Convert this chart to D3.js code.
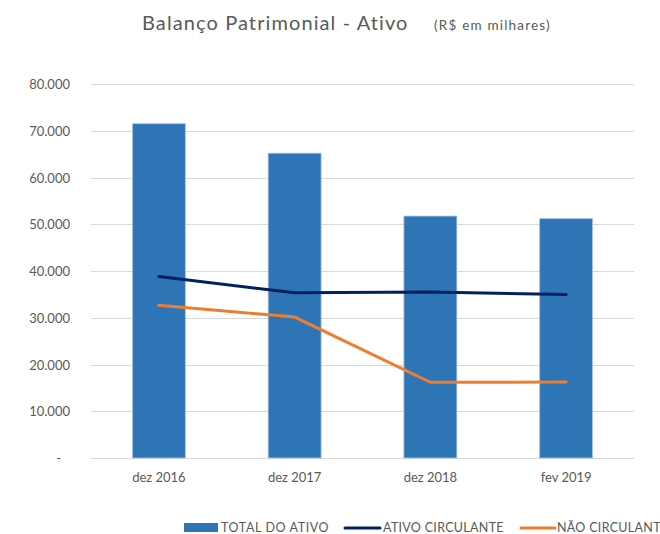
<!DOCTYPE html>
<html>
<head>
<meta charset="utf-8">
<script src="https://cdn.jsdelivr.net/npm/d3@7"></script>
<style>
  body { margin: 0; background: #fff; overflow: hidden; }
  svg text { font-family: Lato, "Open Sans", sans-serif; fill: #595959; }
</style>
</head>
<body>
<div id="chart"></div>
<script>
// data (R$ thousands)
const periods = ["dez 2016", "dez 2017", "dez 2018", "fev 2019"];
const totalAtivo = [71500, 65200, 51750, 51200];
const ativoCirculante = [38800, 35350, 35500, 34950];
const naoCirculante = [32650, 30150, 16200, 16250];
const yTicks = [0, 10000, 20000, 30000, 40000, 50000, 60000, 70000, 80000];

const width = 660, height = 534;
const margin = { top: 84, right: 26, bottom: 76, left: 91 };

const svg = d3.select('#chart').append('svg')
  .attr('width', width)
  .attr('height', height);

const x = d3.scaleBand()
  .domain(periods)
  .range([margin.left, width - margin.right])
  .paddingInner(0.61)
  .paddingOuter(0.305);

const y = d3.scaleLinear()
  .domain([0, 80000])
  .range([height - margin.bottom, margin.top]);

const fmt = d => d === 0 ? '-' : d3.format(',')(d).replace(/,/g, '.');

// gridlines
svg.append('g')
  .selectAll('line')
  .data(yTicks)
  .enter()
  .append('line')
  .attr('x1', margin.left)
  .attr('x2', width - margin.right)
  .attr('y1', d => Math.round(y(d)) + 0.5)
  .attr('y2', d => Math.round(y(d)) + 0.5)
  .attr('stroke', '#d9d9d9')
  .attr('stroke-width', 1);

// y labels
svg.append('g')
  .attr('transform', `translate(${margin.left - 18},0)`)
  .call(d3.axisLeft(y).tickValues(yTicks).tickFormat(fmt).tickSize(0))
  .call(g => g.select('.domain').remove())
  .selectAll('text')
  .attr('font-size', '13px')
  .attr('dy', '0.35em')
  .attr('dx', d => d === 0 ? '-9px' : 0);

// bars
svg.selectAll('.bar')
  .data(totalAtivo)
  .enter()
  .append('rect')
  .attr('class', 'bar')
  .attr('x', (d, i) => x(periods[i]))
  .attr('width', x.bandwidth())
  .attr('y', d => y(d))
  .attr('height', d => y(0) - y(d))
  .attr('fill', '#2e75b6')
  .attr('stroke', '#a9c6e6')
  .attr('stroke-width', 0.8);

// x labels
svg.append('g')
  .attr('transform', `translate(0,${y(0) + 12})`)
  .call(d3.axisBottom(x).tickSize(0))
  .call(g => g.select('.domain').remove())
  .selectAll('text')
  .attr('font-size', '13px');

const line = d3.line()
  .x((d, i) => x(periods[i]) + x.bandwidth() / 2)
  .y(d => y(d));

svg.append('path')
  .datum(ativoCirculante)
  .attr('d', line)
  .attr('fill', 'none')
  .attr('stroke', '#002060')
  .attr('stroke-width', 3)
  .attr('stroke-linecap', 'round');

svg.append('path')
  .datum(naoCirculante)
  .attr('d', line)
  .attr('fill', 'none')
  .attr('stroke', '#ed7d31')
  .attr('stroke-width', 3)
  .attr('stroke-linecap', 'round');

// title
svg.append('text')
  .attr('x', 142)
  .attr('y', 30)
  .attr('font-size', '20px')
  .attr('letter-spacing', '1.1px')
  .attr('fill', '#666')
  .text('Balanço Patrimonial - Ativo');

svg.append('text')
  .attr('x', 434)
  .attr('y', 30)
  .attr('font-size', '13.5px')
  .attr('letter-spacing', '1.2px')
  .text('(R$ em milhares)');

// legend
const legend = svg.append('g').attr('transform', 'translate(0,528)');

legend.append('rect')
  .attr('x', 184).attr('y', -5)
  .attr('width', 34).attr('height', 9)
  .attr('fill', '#2e75b6');
legend.append('text')
  .attr('x', 221).attr('dy', '0.35em')
  .attr('font-size', '12.5px')
  .attr('letter-spacing', '0.6px')
  .text('TOTAL DO ATIVO');

legend.append('line')
  .attr('x1', 345).attr('x2', 380)
  .attr('stroke', '#002060').attr('stroke-width', 3).attr('stroke-linecap', 'round');
legend.append('text')
  .attr('x', 383).attr('dy', '0.35em')
  .attr('font-size', '12.5px')
  .attr('letter-spacing', '0.3px')
  .text('ATIVO CIRCULANTE');

legend.append('line')
  .attr('x1', 521).attr('x2', 555)
  .attr('stroke', '#ed7d31').attr('stroke-width', 3).attr('stroke-linecap', 'round');
legend.append('text')
  .attr('x', 557).attr('dy', '0.35em')
  .attr('font-size', '12.5px')
  .attr('letter-spacing', '0.3px')
  .text('NÃO CIRCULANTE');
</script>
</body>
</html>
